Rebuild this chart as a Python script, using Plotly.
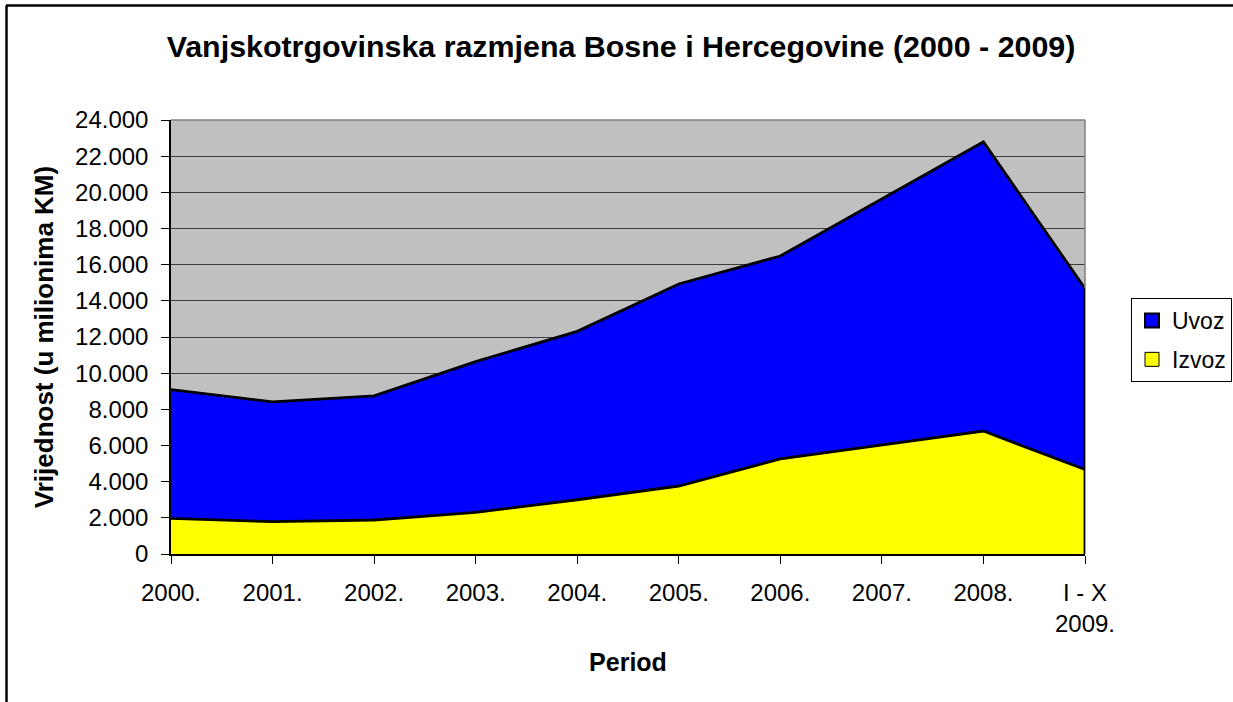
import plotly.graph_objects as go

categories = ["2000.", "2001.", "2002.", "2003.", "2004.", "2005.", "2006.", "2007.", "2008.", "I - X<br>2009."]
izvoz = [1970, 1790, 1880, 2300, 3000, 3760, 5260, 6030, 6800, 4670]
uvoz = [7120, 6620, 6860, 8340, 9310, 11170, 11220, 13590, 15990, 10010]
y_ticks = list(range(0, 24001, 2000))

FONT = "Arial, Liberation Sans, sans-serif"

fig = go.Figure()
fig.add_trace(go.Scatter(
    x=categories, y=izvoz, name="Izvoz", stackgroup="one", mode="lines",
    line=dict(color="black", width=2.8), fillcolor="#FFFF00", showlegend=False,
    hoverinfo="x+y+name"))
fig.add_trace(go.Scatter(
    x=categories, y=uvoz, name="Uvoz", stackgroup="one", mode="lines",
    line=dict(color="black", width=2.8), fillcolor="#0000FF", showlegend=False,
    hoverinfo="x+y+name"))
# legend entries (square keys like the original)
fig.add_trace(go.Scatter(
    x=[None], y=[None], name="Uvoz", mode="markers", legendgroup="a",
    marker=dict(symbol="square", size=14, color="#0000FF", line=dict(color="black", width=2))))
fig.add_trace(go.Scatter(
    x=[None], y=[None], name="Izvoz", mode="markers", legendgroup="b",
    marker=dict(symbol="square", size=14, color="#FFFF00", line=dict(color="black", width=1))))

L, R, T, B = 171, 148, 120, 148
W, H = 1233, 702
pw, ph = W - L - R, H - T - B

def px_x(px):
    return (px - L) / pw

def px_y(py):
    return (H - B - py) / ph

fig.update_layout(
    width=W, height=H,
    margin=dict(l=L, r=R, t=T, b=B, autoexpand=False),
    paper_bgcolor="white",
    plot_bgcolor="#C0C0C0",
    separators=",.",
    font=dict(family=FONT, size=24, color="black"),
    title=dict(text="<b>Vanjskotrgovinska razmjena Bosne i Hercegovine (2000 - 2009)</b>",
               xref="container", x=621 / W, xanchor="center", y=1 - 46 / H, yanchor="middle",
               font=dict(family=FONT, size=30.4, color="black")),
    showlegend=True,
    legend=dict(x=px_x(1131), y=px_y(298), xanchor="left", yanchor="top",
                bordercolor="black", borderwidth=1, bgcolor="white",
                tracegroupgap=6, itemwidth=30,
                font=dict(family=FONT, size=23)),
    xaxis=dict(
        type="category", range=[0, len(categories) - 1],
        showgrid=False, showline=True, linecolor="black", linewidth=1.5,
        ticks="outside", ticklen=8, tickcolor="black", tickwidth=1,
        ticklabelstandoff=8,
        tickfont=dict(family=FONT, size=24),
        title=dict(text="<b>Period</b>", font=dict(family=FONT, size=25), standoff=18),
        zeroline=False,
    ),
    yaxis=dict(
        range=[0, 24000], tickvals=y_ticks, tickformat=",.0f",
        showgrid=True, gridcolor="#3c3c3c", gridwidth=1,
        showline=True, linecolor="black", linewidth=1.5,
        ticks="outside", ticklen=8, tickcolor="black", tickwidth=1,
        ticklabelstandoff=8,
        tickfont=dict(family=FONT, size=24),
        title=dict(text="<b>Vrijednost (u milionima KM)</b>", font=dict(family=FONT, size=26), standoff=14),
        zeroline=False,
    ),
    shapes=[
        # plot area frame (gray top/right)
        dict(type="line", xref="paper", yref="paper", x0=0, x1=1, y0=1, y1=1,
             line=dict(color="#808080", width=1.5)),
        dict(type="line", xref="paper", yref="paper", x0=1, x1=1, y0=0, y1=1,
             line=dict(color="#808080", width=1.5)),
        # series outline on the right edge
        dict(type="line", xref="x", yref="y", x0=categories[-1], x1=categories[-1],
             y0=0, y1=izvoz[-1] + uvoz[-1], line=dict(color="black", width=2.8)),
        # outer chart border (left and top visible)
        dict(type="line", xref="paper", yref="paper", x0=px_x(6.5), x1=px_x(6.5),
             y0=px_y(5.5), y1=px_y(710), line=dict(color="black", width=2.5)),
        dict(type="line", xref="paper", yref="paper", x0=px_x(6), x1=px_x(1240),
             y0=px_y(5.5), y1=px_y(5.5), line=dict(color="black", width=2.5)),
    ],
)

fig.write_html("out.html", config={"displayModeBar": False},
               post_script="document.body.style.margin='0';")
